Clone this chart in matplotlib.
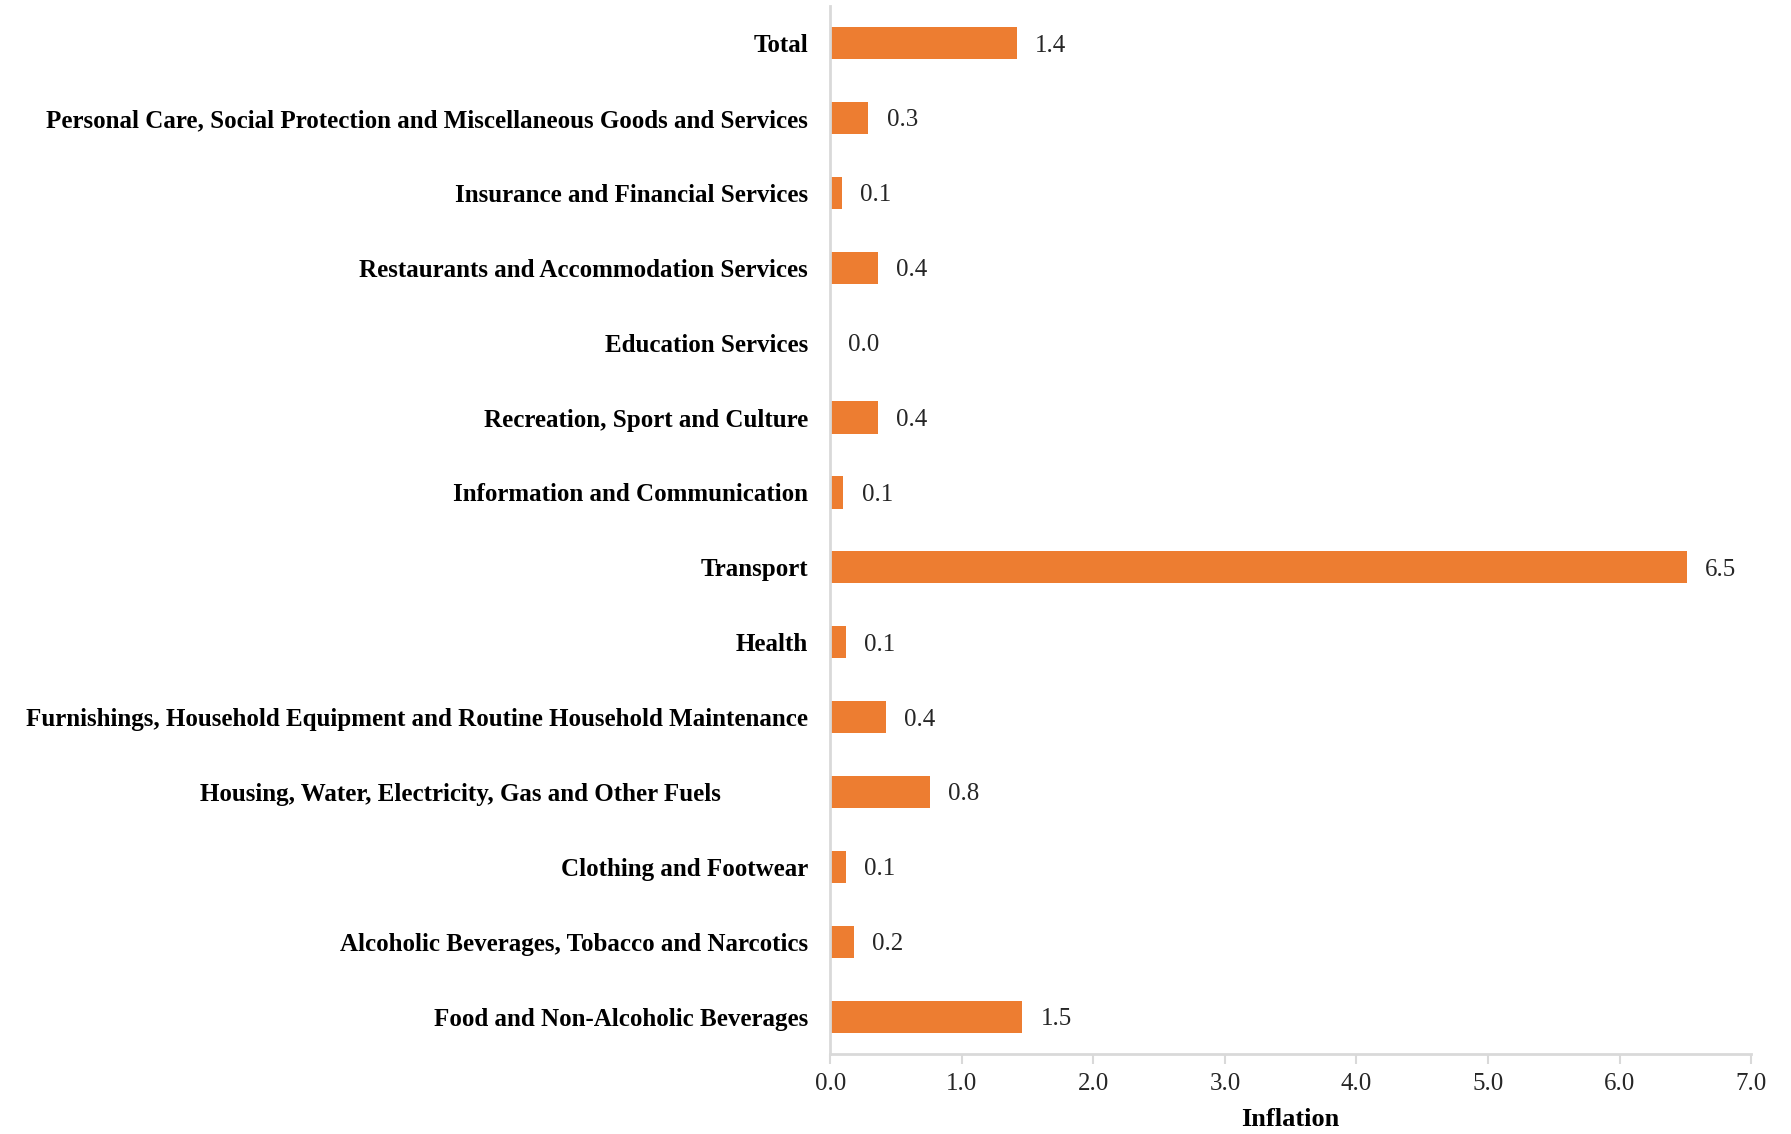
import matplotlib
matplotlib.use("Agg")
import matplotlib.pyplot as plt
import numpy as np

# categories listed bottom -> top, as drawn
categories = [
    "Food and Non-Alcoholic Beverages",
    "Alcoholic Beverages, Tobacco and Narcotics",
    "Clothing and Footwear",
    "Housing, Water, Electricity, Gas and Other Fuels              ",
    "Furnishings, Household Equipment and Routine Household Maintenance",
    "Health",
    "Transport",
    "Information and Communication",
    "Recreation, Sport and Culture",
    "Education Services",
    "Restaurants and Accommodation Services",
    "Insurance and Financial Services",
    "Personal Care, Social Protection and Miscellaneous Goods and Services",
    "Total",
]
inflation = [1.46, 0.18, 0.12, 0.76, 0.42, 0.12, 6.51, 0.10, 0.36, 0.0, 0.36, 0.09, 0.29, 1.42]
xticks = [0, 1, 2, 3, 4, 5, 6, 7]

bar_color = "#ED7D31"
grid_grey = "#D9D9D9"
serif = ["Liberation Serif", "DejaVu Serif"]

fig = plt.figure(figsize=(17.91, 11.34), dpi=100)
ax = fig.add_axes([0.4636, 0.0705, 0.5141, 0.9245])

y = np.arange(len(categories))
bars = ax.barh(y, inflation, height=0.43, color=bar_color, zorder=2)

for b, v in zip(bars, inflation):
    ax.annotate("%.1f" % v, xy=(b.get_width(), b.get_y() + b.get_height() / 2),
                xytext=(13, 0), textcoords="offset points", ha="left", va="center_baseline",
                fontsize=18, family=serif, color="#262626")

ax.set_xlim(0, 7)
ax.set_ylim(-0.5, len(categories) - 0.5)
ax.set_yticks(y)
ax.set_yticklabels(categories, family=serif, fontsize=18, fontweight="bold", color="black")
ax.set_xticks(xticks)
ax.set_xticklabels(["%.1f" % t for t in xticks], family=serif, fontsize=18, color="#262626")
ax.set_xlabel("Inflation", family=serif, fontsize=19, fontweight="bold", color="black", labelpad=9)

for s in ["top", "right"]:
    ax.spines[s].set_visible(False)
for s in ["left", "bottom"]:
    ax.spines[s].set_color(grid_grey)
    ax.spines[s].set_linewidth(2)
ax.tick_params(axis="y", length=0, pad=16)
ax.tick_params(axis="x", length=7, width=1.5, color=grid_grey, pad=7)

fig.savefig("out.png", dpi=100, facecolor="white")
